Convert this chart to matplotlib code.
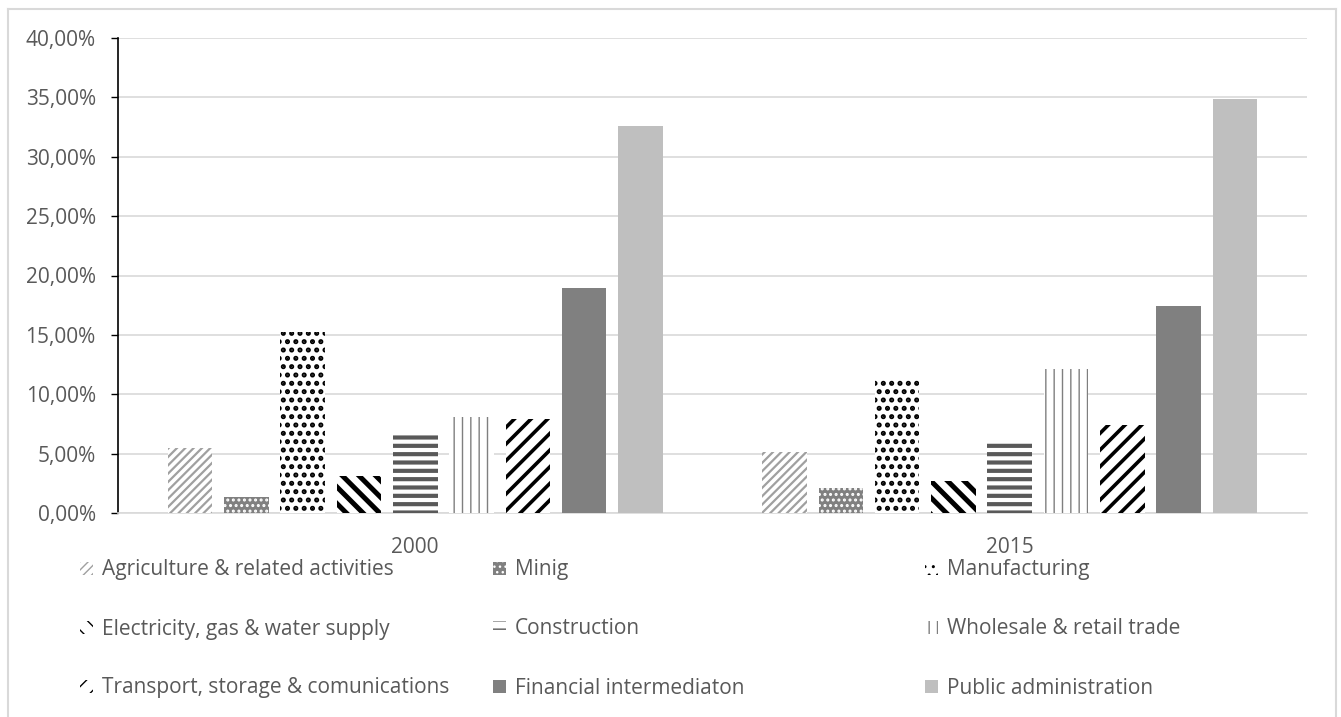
import matplotlib
matplotlib.use("Agg")
import matplotlib.pyplot as plt
import numpy as np
from matplotlib.lines import Line2D
from matplotlib.patches import Patch
from matplotlib.ticker import FuncFormatter, MultipleLocator

plt.rcParams['font.family'] = ['Open Sans', 'DejaVu Sans']

# Share of GDP by sector (percent)
years = ["2000", "2015"]
sectors = ["Agriculture & related activities", "Minig", "Manufacturing",
           "Electricity, gas & water supply", "Construction",
           "Wholesale & retail trade", "Transport, storage & comunications",
           "Financial intermediaton", "Public administration"]
share_2000 = [5.45, 1.37, 15.24, 3.13, 6.85, 8.08, 7.89, 18.96, 32.55]
share_2015 = [5.17, 2.10, 11.30, 2.70, 6.12, 12.16, 7.38, 17.39, 34.90]

# face, hatch colour, hatch, hatch linewidth
styles = [
    ("white", "#a0a0a0", "////", 1.6),
    ("#808080", "white", "...", 1.4),
    ("white", "black", "..", 2.4),
    ("white", "black", "\\\\", 3.6),
    ("white", "#595959", "--", 3.0),
    ("white", "#7f7f7f", "||", 1.0),
    ("white", "black", "//", 2.6),
    ("#808080", "#808080", "", 1.0),
    ("#bfbfbf", "#bfbfbf", "", 1.0),
]

text_col = "#595959"
grid_col = "#d9d9d9"
fs = 15

fig = plt.figure(figsize=(13.41, 7.17), dpi=100)
ax = fig.add_axes([118 / 1341, 1 - 513 / 717, (1307 - 118) / 1341, (513 - 38) / 717])

x = np.arange(len(years))
width = 0.0749
pitch = 0.0947
data = np.array([share_2000, share_2015])

handles = []
for i, name in enumerate(sectors):
    face, hcol, hatch, hlw = styles[i]
    offs = (i - 4) * pitch
    with plt.rc_context({'hatch.linewidth': hlw}):
        bars = ax.bar(x + offs, data[:, i], width, facecolor=face,
                      edgecolor=hcol, linewidth=0, hatch=hatch, zorder=3)
        for b in bars:
            if hasattr(b, "set_hatch_linewidth"):
                b.set_hatch_linewidth(hlw)
        h = Patch(facecolor=face, edgecolor=hcol, linewidth=0, hatch=hatch)
        if hasattr(h, "set_hatch_linewidth"):
            h.set_hatch_linewidth(hlw)
    handles.append(h)

ax.set_xlim(-0.5, 1.5)
ax.set_ylim(0, 40)
ax.yaxis.set_major_locator(MultipleLocator(5))
ax.yaxis.set_major_formatter(FuncFormatter(lambda v, p: f"{v:.2f}%".replace(".", ",")))
ax.set_xticks(x)
ax.set_xticklabels(years)
ax.tick_params(axis='x', length=0, pad=17, labelsize=fs, labelcolor=text_col)
ax.tick_params(axis='y', length=5, width=1, color='black', labelsize=fs,
               labelcolor=text_col, pad=11)
ax.grid(axis='y', color=grid_col, linewidth=1.2, zorder=0)
ax.set_axisbelow(True)
for s in ['top', 'right']:
    ax.spines[s].set_visible(False)
ax.spines['left'].set_color('black')
ax.spines['left'].set_linewidth(1.2)
ax.spines['bottom'].set_color(grid_col)
ax.spines['bottom'].set_linewidth(1.2)

# legend, one entry per slot (3 x 3 grid, row-major like the original)
col_x = [80, 493, 925]
row_y = [570, 629, 688]
for i, name in enumerate(sectors):
    r, c = divmod(i, 3)
    lg = fig.legend([handles[i]], [name], loc='center left',
                    bbox_to_anchor=(col_x[c] / 1341, 1 - row_y[r] / 717),
                    frameon=False, fontsize=fs, labelcolor=text_col,
                    handlelength=0.6, handleheight=0.6, handletextpad=0.45,
                    borderpad=0, borderaxespad=0)

# chart border (bottom edge is cut off in the original)
bc = "#d9d9d9"
fig.add_artist(Line2D([8 / 1341, 8 / 1341], [0, 1 - 9 / 717], color=bc, lw=1.5,
                      transform=fig.transFigure))
fig.add_artist(Line2D([8 / 1341, 1336 / 1341], [1 - 9 / 717, 1 - 9 / 717], color=bc,
                      lw=1.5, transform=fig.transFigure))
fig.add_artist(Line2D([1336 / 1341, 1336 / 1341], [0, 1 - 9 / 717], color=bc, lw=1.5,
                      transform=fig.transFigure))

fig.savefig("out.png", dpi=100)
